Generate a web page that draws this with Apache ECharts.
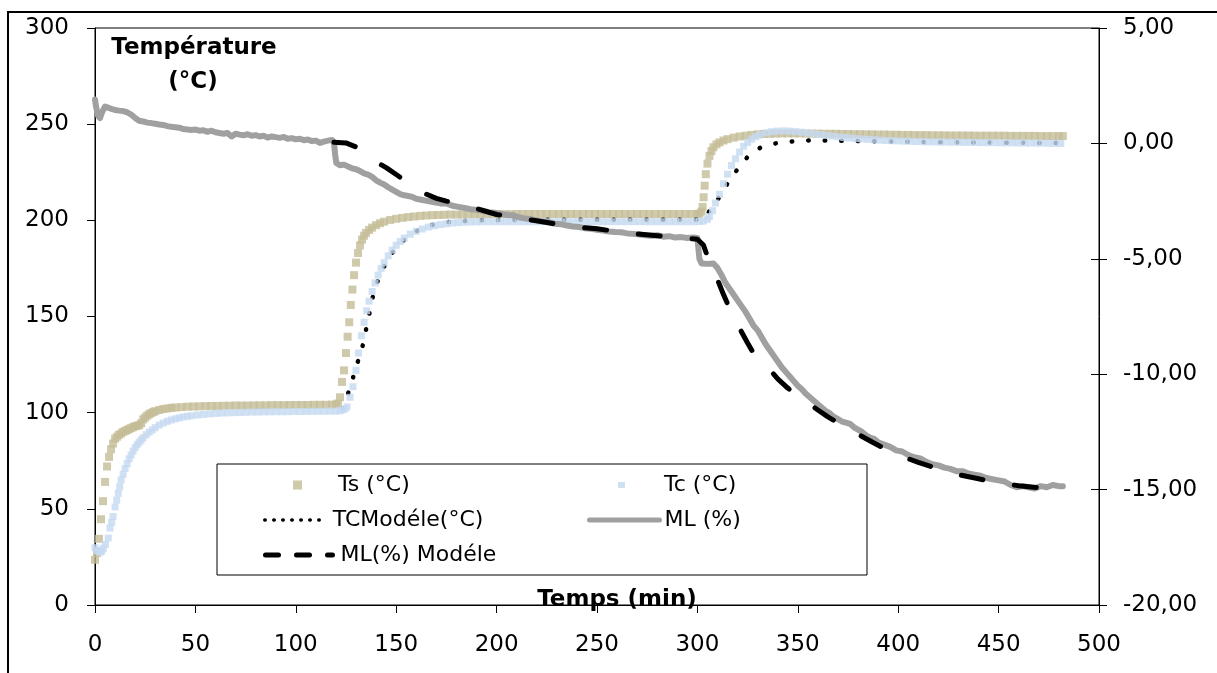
<!DOCTYPE html>
<html>
<head>
<meta charset="utf-8">
<script src="https://cdn.jsdelivr.net/npm/echarts@6/dist/echarts.min.js"></script>
<style>
html,body{margin:0;padding:0;background:#fff;}
#chart{width:1217px;height:673px;}
</style>
</head>
<body>
<div id="chart"></div>
<script>
// ---- Data (time in min) ----
const xTicks = [0, 50, 100, 150, 200, 250, 300, 350, 400, 450, 500];
const leftTicks = [0, 50, 100, 150, 200, 250, 300];
const rightTicks = [-20, -15, -10, -5, 0, 5];

const seriesNames = ['Ts (°C)', 'Tc (°C)', 'TCModéle(°C)', 'ML (%)', 'ML(%) Modéle'];

// Ts (°C) – surface temperature
const tsData = [
[0,23.5],[1,27],[2,34.4],[3,44.6],[4,54],[5,64],[6,72],[7,77],[8,81],[9,84],[10,86.5],[11,87.5],[12,88.5],[13,89.2],[14,90],[15,90.5],[16,91],[17,91.5],[18,92],[19,92.5],[20,93],[21,93.2],[22,93.5],[23,94.5],[24,96.5],[25,97.5],[26,98.5],[27,99.2],[28,99.8],[29,100.3],[30,100.8],[32,101.4],[34,101.9],[36,102.2],[38,102.5],[40,102.7],
[43,102.9],[46,103.1],[49,103.2],[52,103.3],[55,103.4],[58,103.5],[61,103.5],[64,103.6],[67,103.6],[70,103.7],[73,103.7],[76,103.7],[79,103.8],[82,103.8],[85,103.8],[88,103.9],[91,103.9],[94,103.9],[97,104],[100,104],[103,104],[106,104],[109,104.1],[112,104.1],[115,104.1],[118,104.2],[120,104.2],
[121,104.8],[122,108],[123,116],[124,122],[125,131],[125.8,139.5],[126.6,147],[127.4,156],[128.2,164],[129,171.5],[130,178],[131,183],[132,187],[133,190],[134,192],[135,193.5],[136.5,195],[138,196.2],[140,197.5],[142,198.5],[144,199.3],[147,200.2],[150,200.8],[153,201.3],[156,201.7],[159,202],[162,202.3],[165,202.5],[168,202.7],[171,202.8],[174,202.9],[177,203],[180,203],
[183,203],[186,203.1],[189,203.1],[192,203.1],[195,203.2],[198,203.2],[201,203.2],[204,203.2],[207,203.2],[210,203.3],[213,203.3],[216,203.3],[219,203.3],[222,203.3],[225,203.3],[228,203.3],[231,203.3],[234,203.3],[237,203.3],[240,203.3],[243,203.3],[246,203.3],[249,203.3],[252,203.3],[255,203.3],[258,203.3],[261,203.3],[264,203.3],[267,203.3],[270,203.3],[273,203.3],[276,203.3],[279,203.3],[282,203.3],[285,203.3],[288,203.3],[291,203.3],[294,203.3],[297,203.3],[300,203.3],
[301,203.5],[302,204.5],[302.6,207],[303.1,212],[303.6,218],[304.2,224],[305,229.5],[306,233.5],[307,236],[308,238],[309.5,239.5],[311,240.5],[313,241.5],[315,242.2],[318,243],[321,243.6],[324,244],[327,244.4],[330,244.7],[333,244.9],[336,245],[339,245.1],
[342,245.2],[345,245.2],[348,245.2],[351,245.2],[354,245.1],[357,245.1],[360,245.1],[363,245],[366,245],[369,245],[372,244.9],[375,244.9],[378,244.8],[381,244.8],[384,244.7],[387,244.7],[390,244.6],[393,244.6],[396,244.5],[399,244.5],[402,244.4],[405,244.4],[408,244.3],[411,244.3],[414,244.3],[417,244.2],[420,244.2],[423,244.2],[426,244.1],[429,244.1],[432,244.1],[435,244.1],[438,244],[441,244],[444,244],[447,244],[450,244],[453,244],[456,243.9],[459,243.9],[462,243.9],[465,243.9],[468,243.9],[471,243.8],[474,243.8],[477,243.8],[480,243.8],[482,243.8]
];

// Tc (°C) – core temperature
const tcData = [
[0,29.8],[0.8,28.5],[1.7,27.8],[2.6,27.5],[3.4,28],[4.2,29.5],[5.2,31.5],[6.6,34.8],[7.5,40],[8.3,43],[9,46],[10,51],[10.8,54.5],[11.6,58],[12.3,61.5],[13,65],[14,68],[15,71],[16,73.5],[17,76],[18,78],[19,80],[20,81.8],[21,83.3],[22,84.6],[23,85.8],[24,87],[25.5,88.5],[27,89.8],[28.5,91],[30,92.2],[32,93.5],[34,94.6],[36,95.5],[38,96.2],[40,96.8],[42,97.3],[44,97.8],[46,98.1],[48,98.4],
[51,98.8],[54,99.1],[57,99.4],[60,99.6],[63,99.8],[66,99.9],[69,100],[72,100.1],[75,100.2],[78,100.3],[81,100.3],[84,100.4],[87,100.4],[90,100.5],[93,100.5],[96,100.5],[99,100.6],[102,100.6],[105,100.6],[108,100.7],[111,100.7],[114,100.7],[117,100.8],[120,100.8],[122,101],[123.5,101.5],
[124.5,102],[125.5,103],[127,108],[128.5,113.5],[130,122],[131.2,131],[132.7,140],[134,147],[135.3,153],[136.5,158],[138,163],[139.5,167.5],[141,171.5],[142.5,175],[144,178],[146,181.5],[148,184.5],[150,187],[152,189],[154,190.8],[157,192.8],[160,194.3],[163,195.5],[166,196.5],[169,197.2],[172,197.8],[175,198.2],[178,198.6],[181,198.8],[184,199],[187,199.1],[190,199.2],
[193,199.3],[196,199.3],[199,199.3],[202,199.3],[205,199.3],[208,199.3],[211,199.3],[214,199.3],[217,199.3],[220,199.3],[223,199.3],[226,199.3],[229,199.3],[232,199.3],[235,199.3],[238,199.3],[241,199.3],[244,199.3],[247,199.3],[250,199.3],[253,199.3],[256,199.3],[259,199.3],[262,199.3],[265,199.3],[268,199.3],[271,199.3],[274,199.3],[277,199.3],[280,199.3],[283,199.3],[286,199.3],[289,199.3],[292,199.3],[295,199.3],[298,199.3],
[301,199.4],[303,199.6],[305,200.5],[306,202],[307.5,205],[309,209],[311,213.5],[313,219],[315,224],[317,228.5],[319,232],[321,235.5],[323,238.5],[325,240.5],[327,242.2],[329,243.5],[331,244.5],[334,245.5],[337,246.1],[340,246.4],[343,246.5],[346,246.4],[349,246.1],[352,245.8],[355,245.4],[358,245],[361,244.6],[364,244.2],[367,243.8],[370,243.4],[373,243.1],[376,242.8],[379,242.5],[382,242.3],[385,242.1],[388,241.9],[391,241.7],[394,241.5],[397,241.4],[400,241.3],
[403,241.2],[406,241.1],[409,241],[412,240.9],[415,240.8],[418,240.8],[421,240.7],[424,240.7],[427,240.6],[430,240.6],[433,240.5],[436,240.5],[439,240.5],[442,240.4],[445,240.4],[448,240.4],[451,240.3],[454,240.3],[457,240.3],[460,240.2],[463,240.2],[466,240.2],[469,240.1],[472,240.1],[475,240.1],[478,240],[481,240]
];

// TCModéle(°C) – model of core temperature
const tcModelData = [
[123.5,102],[125.2,107.5],[127.7,115],[130,124],[132.7,131.7],[134.3,140],[136,148],[137.6,156.8],[139.3,164.6],[142.6,173],[145.9,180],[150.8,187],[157.5,193],[165,197],[175,199],[190,200],[220,200.3],[260,200.3],[302,200.3],[304,201.5],[306.7,206],[311.6,213],[315.8,220.7],[320.5,227.3],[325,233],[331.6,238],[339,240],[347,241],[356,241.6],[364,241.5],[380,241.2],[420,240.6],[480,240.2]
];

// ML (%) – measured mass loss (right axis)
const mlData = [
[0,1.9],[0.5,1.6],[1.5,1.2],[2.5,1.1],[3.5,1.35],[5,1.6],[6.5,1.55],[8,1.5],[10,1.45],[12,1.42],[14,1.4],[16,1.35],[18,1.25],[20,1.1],[22,0.98],[24,0.95],[26,0.9],[28,0.88],[30,0.85],[32,0.82],[34,0.8],[36,0.75],[38,0.72],[40,0.7],[42,0.68],[44,0.62],[46,0.6],[48,0.58],[50,0.6],[52,0.55],[54,0.57],[56,0.5],[58,0.55],[60,0.48],[62,0.45],[64,0.42],[66,0.45],[68,0.3],[70,0.42],[72,0.38],[74,0.35],[76,0.4],[78,0.33],[80,0.36],[82,0.3],[84,0.33],[86,0.25],[88,0.3],[90,0.27],[92,0.24],[94,0.28],[96,0.2],[98,0.23],[100,0.18],[102,0.2],[104,0.14],[106,0.17],[108,0.1],[110,0.12],[112,0.02],[114,0.08],[116,0.12],[118,0.15],[119,0.05],
[119.6,-0.5],[120.2,-0.85],[122,-0.95],[124,-0.92],[126,-1.0],[128,-1.08],[130,-1.12],[132,-1.2],[134,-1.3],[136,-1.35],[138,-1.45],[140,-1.6],[142,-1.7],[144,-1.78],[146,-1.9],[148,-2.0],[150,-2.1],[152,-2.2],[154,-2.25],[156,-2.28],[158,-2.32],[160,-2.4],[163,-2.45],[166,-2.5],[169,-2.55],[172,-2.6],[175,-2.6],[178,-2.7],[181,-2.75],[184,-2.8],[187,-2.85],[190,-2.88],[193,-2.92],[196,-2.98],[199,-3.0],[202,-3.05],[205,-3.1],[208,-3.11],[211,-3.2],[214,-3.25],[217,-3.28],[220,-3.35],[223,-3.38],[226,-3.42],[229,-3.48],[232,-3.5],[235,-3.56],[238,-3.6],[241,-3.62],[244,-3.68],[247,-3.7],[250,-3.74],[253,-3.78],[256,-3.82],[259,-3.84],[262,-3.85],[265,-3.9],[268,-3.92],[271,-3.95],[274,-3.98],[277,-4.0],[280,-3.98],[283,-4.04],[286,-4.02],[289,-4.08],[292,-4.06],[295,-4.1],[298,-4.08],[300,-4.1],
[301,-5.0],[302,-5.2],[305,-5.22],[308,-5.2],[310,-5.4],[312,-5.7],[314,-6.05],[316,-6.3],[318,-6.55],[320,-6.8],[322,-7.05],[324,-7.3],[326,-7.6],[328,-7.9],[330,-8.1],[332,-8.4],[334,-8.7],[336,-8.95],[338,-9.2],[340,-9.45],[342,-9.7],[344,-9.9],[346,-10.1],[348,-10.3],[350,-10.5],[352,-10.65],[354,-10.85],[356,-11.0],[358,-11.15],[360,-11.3],[362,-11.45],[364,-11.6],[366,-11.7],[368,-11.85],[370,-11.95],[372,-12.05],[374,-12.1],[376,-12.15],[378,-12.3],[380,-12.4],[382,-12.5],[384,-12.65],[386,-12.75],[388,-12.8],[390,-12.95],[393,-13.05],[396,-13.15],[399,-13.3],[402,-13.35],[405,-13.5],[408,-13.6],[411,-13.65],[414,-13.8],[417,-13.9],[420,-13.95],[423,-14.05],[426,-14.1],[429,-14.2],[432,-14.2],[435,-14.3],[438,-14.35],[441,-14.4],[444,-14.5],[447,-14.55],[450,-14.6],[453,-14.65],[456,-14.8],[459,-14.9],[462,-14.85],[465,-14.9],[468,-14.95],[471,-14.85],[474,-14.9],[477,-14.8],[480,-14.85],[482,-14.85]
];

// ML(%) Modéle – model of mass loss (right axis)
const mlModelData = [
[119,0.05],[125,0.02],[130,-0.15],[135,-0.45],[140,-0.8],[145,-1.05],[150,-1.35],[155,-1.65],[160,-1.95],[165,-2.2],[170,-2.38],[175,-2.5],[180,-2.6],[190,-2.82],[200,-3.08],[210,-3.25],[220,-3.35],[230,-3.5],[240,-3.62],[250,-3.7],[260,-3.82],[270,-3.92],[280,-4.0],[290,-4.08],[300,-4.15],[303,-4.4],[305,-4.9],[307,-5.3],[310,-5.9],[313,-6.55],[317,-7.35],[320,-7.85],[325,-8.65],[328,-9.1],[331,-9.3],[335,-9.7],[340,-10.2],[345,-10.6],[350,-10.95],[355,-11.25],[360,-11.55],[365,-11.85],[370,-12.1],[375,-12.35],[380,-12.6],[387,-12.94],[395,-13.3],[400,-13.5],[410,-13.82],[420,-14.1],[430,-14.35],[440,-14.53],[450,-14.72],[460,-14.83],[470,-14.92],[480,-15.0]
];

// ---- Chart ----
const FONT = 'DejaVu Sans';
const chart = echarts.init(document.getElementById('chart'), null, {renderer: 'canvas'});

const axisLineStyle = {color: '#000', width: 1};
const labelStyle = {fontFamily: FONT, fontSize: 23, color: '#000'};

function legendItem(name, left, top, w, h, pad, extra) {
  return Object.assign({
    data: [name], left: left, top: top, orient: 'horizontal',
    itemWidth: w, itemHeight: h, padding: 0, selectedMode: false,
    textStyle: {fontFamily: FONT, fontSize: 22, color: '#000', padding: [0, 0, 0, pad]}
  }, extra || {});
}
const noSymbol = {opacity: 0, borderWidth: 0};

const option = {
  animation: false,
  backgroundColor: '#fff',
  grid: {left: 95, right: 118, top: 28, bottom: 68, show: true, borderColor: '#000', borderWidth: 1},
  xAxis: {
    type: 'value', min: xTicks[0], max: xTicks[xTicks.length - 1], interval: xTicks[1] - xTicks[0],
    axisLine: {show: true, onZero: false, lineStyle: axisLineStyle},
    axisTick: {show: true, length: 8, lineStyle: axisLineStyle},
    axisLabel: Object.assign({margin: 29}, labelStyle),
    splitLine: {show: false}
  },
  yAxis: [
    {
      type: 'value', position: 'left', min: leftTicks[0], max: leftTicks[leftTicks.length - 1], interval: leftTicks[1] - leftTicks[0],
      axisLine: {show: true, lineStyle: axisLineStyle},
      axisTick: {show: true, length: 8, lineStyle: axisLineStyle},
      axisLabel: Object.assign({margin: 26}, labelStyle),
      splitLine: {show: false}
    },
    {
      type: 'value', position: 'right', min: rightTicks[0], max: rightTicks[rightTicks.length - 1], interval: rightTicks[1] - rightTicks[0],
      axisLine: {show: true, lineStyle: axisLineStyle},
      axisTick: {show: true, length: 8, lineStyle: axisLineStyle},
      axisLabel: Object.assign({margin: 24, formatter: v => v.toFixed(2).replace('.', ',')}, labelStyle),
      splitLine: {show: false}
    },
    {
      type: 'value', position: 'right', min: rightTicks[0], max: rightTicks[rightTicks.length - 1], interval: rightTicks[1] - rightTicks[0],
      axisLine: {show: false},
      axisTick: {show: true, inside: true, length: 8, lineStyle: axisLineStyle},
      axisLabel: {show: false},
      splitLine: {show: false}
    }
  ],
  legend: [
    legendItem(seriesNames[0], 293, 474, 9, 9, 31),
    legendItem(seriesNames[1], 618, 474, 7, 6, 34),
    legendItem(seriesNames[2], 263, 509, 63, 10, 0, {lineStyle: {width: 3.5, type: [0.5, 8.5], cap: 'round'}, itemStyle: noSymbol}),
    legendItem(seriesNames[3], 587, 509, 70, 10, 0, {lineStyle: {width: 5}, itemStyle: noSymbol}),
    legendItem(seriesNames[4], 263, 544, 67, 10, 3, {lineStyle: {width: 5, type: [13, 18], cap: 'round'}, itemStyle: noSymbol})
  ],
  series: [
    {
      name: seriesNames[0], type: 'scatter', yAxisIndex: 0, data: tsData,
      symbol: 'rect', symbolSize: 8, itemStyle: {color: '#C4BD97'}, z: 2
    },
    {
      name: seriesNames[2], type: 'line', yAxisIndex: 0, data: tcModelData,
      symbol: 'none', smooth: false,
      lineStyle: {color: '#000', width: 4.5, type: [0.5, 16], cap: 'round'}, itemStyle: {color: '#000'}, z: 3
    },
    {
      name: seriesNames[1], type: 'scatter', yAxisIndex: 0, data: tcData,
      symbol: 'rect', symbolSize: 7, itemStyle: {color: '#C6D9F1'}, z: 4
    },
    {
      name: seriesNames[3], type: 'line', yAxisIndex: 1, data: mlData,
      symbol: 'none', lineStyle: {color: '#A0A0A0', width: 6, join: 'round', cap: 'round'}, itemStyle: {color: '#A0A0A0'}, z: 5
    },
    {
      name: seriesNames[4], type: 'line', yAxisIndex: 1, data: mlModelData,
      symbol: 'none', lineStyle: {color: '#000', width: 5, type: [22, 32], cap: 'round', join: 'round'}, itemStyle: {color: '#000'}, z: 6
    }
  ],
  graphic: [
    {type: 'rect', shape: {x: 8, y: 12, width: 1300, height: 800}, style: {fill: 'none', stroke: '#000', lineWidth: 2}, z: 1, silent: true},
    {type: 'rect', shape: {x: 217, y: 464, width: 650, height: 111}, style: {fill: '#fff', stroke: '#000', lineWidth: 1}, z: 3, silent: true},
    {type: 'text', x: 194, y: 48, style: {text: 'Température', font: 'bold 23px "DejaVu Sans"', fill: '#000', textAlign: 'center', textVerticalAlign: 'middle'}, z: 10},
    {type: 'text', x: 193, y: 82, style: {text: '(°C)', font: 'bold 23px "DejaVu Sans"', fill: '#000', textAlign: 'center', textVerticalAlign: 'middle'}, z: 10},
    {type: 'text', x: 617, y: 600, style: {text: 'Temps (min)', font: 'bold 23px "DejaVu Sans"', fill: '#000', textAlign: 'center', textVerticalAlign: 'middle'}, z: 10}
  ]
};
chart.setOption(option);
</script>
</body>
</html>
